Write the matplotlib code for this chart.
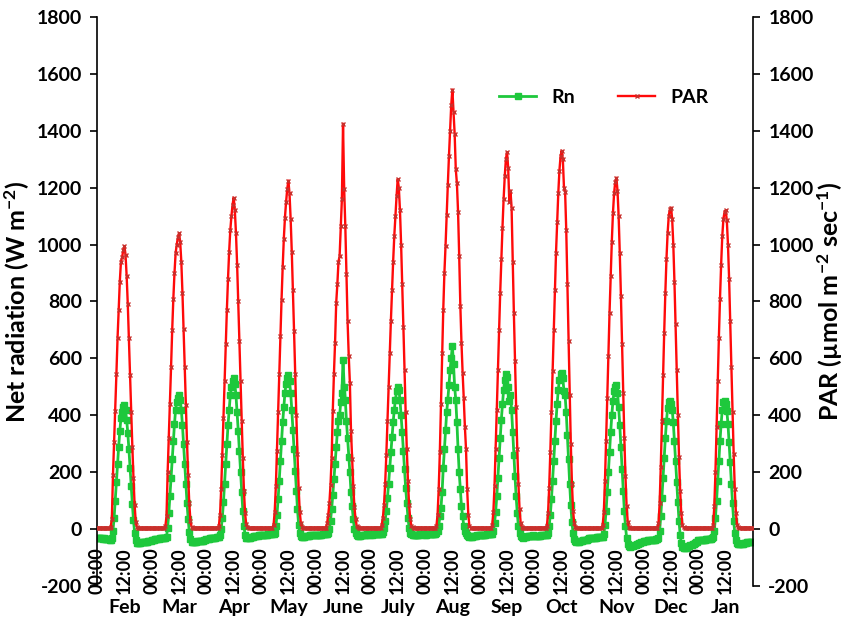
import numpy as np
import matplotlib.pyplot as plt
import matplotlib.transforms as mtransforms
from matplotlib.lines import Line2D

plt.rcParams['font.family'] = 'Lato'
plt.rcParams['font.weight'] = 'bold'
plt.rcParams['axes.labelweight'] = 'bold'
plt.rcParams['axes.unicode_minus'] = False
plt.rcParams['mathtext.fontset'] = 'custom'
plt.rcParams['mathtext.rm'] = 'Lato:bold'
plt.rcParams['mathtext.default'] = 'rm'

months = ['Feb', 'Mar', 'Apr', 'May', 'June', 'July', 'Aug', 'Sep', 'Oct', 'Nov', 'Dec', 'Jan']
hour_labels = ['00:00', '12:00']

# half-hourly values, 00:00 .. 23:30, one representative day per month
par_feb = [5, 5, 4, 5, 5, 5, 4, 5, 5, 5, 4, 5,
           8, 35, 190, 305, 415, 545, 670, 770, 870, 940, 955, 980, 995, 965, 890, 790, 670, 540, 410, 290, 180, 85, 25, 8,
           5, 5, 4, 5, 5, 5, 5, 4, 5, 5, 5, 5]
rn_feb = [-30, -31, -32, -30, -33, -34, -32, -35, -34, -36, -35, -37,
          -38, -33, -5, 40, 100, 165, 228, 290, 345, 390, 412, 430, 436, 418, 385, 338, 280, 215, 150, 88, 32, -12, -38, -48,
          -50, -49, -48, -47, -47, -46, -45, -45, -44, -43, -42, -41]

par_mar = [5, 4, 5, 5, 5, 4, 5, 5, 5, 5, 4, 5,
           10, 45, 200, 320, 440, 570, 700, 810, 900, 970, 1000, 1025, 1040, 1010, 940, 830, 705, 570, 435, 305, 190, 90, 30, 8,
           5, 5, 5, 4, 5, 5, 5, 5, 4, 5, 5, 5]
rn_mar = [-38, -37, -37, -36, -35, -35, -34, -33, -33, -32, -31, -30,
          -32, -28, 5, 55, 115, 180, 245, 310, 370, 420, 445, 462, 470, 455, 420, 365, 300, 230, 160, 92, 35, -10, -35, -44,
          -46, -45, -45, -44, -43, -43, -42, -42, -41, -41, -40, -40]

par_apr = [5, 5, 5, 4, 5, 5, 5, 4, 5, 5, 5,
           12, 50, 140, 260, 390, 520, 650, 770, 880, 975, 1050, 1100, 1140, 1165, 1120, 1040, 930, 800, 660, 520,
           380, 250, 135, 55, 18, 7,
           5, 5, 4, 5, 5, 5, 5, 5, 4, 5, 5]
rn_apr = [-35, -34, -34, -33, -32, -32, -31, -30, -30, -29, -28,
          -28, -22, 0, 40, 95, 160, 230, 300, 365, 420, 470, 500, 520, 530, 510, 470, 410, 345, 275, 200,
          130, 65, 10, -20, -30, -32,
          -31, -30, -29, -28, -27, -26, -25, -24, -23, -22, -22]

par_may = [5, 5, 4, 5, 5, 5, 5, 4, 5, 5, 5,
           15, 60, 150, 275, 410, 545, 680, 805, 920, 1020, 1095, 1150, 1195, 1225, 1180, 1090, 975, 840, 695, 545,
           400, 265, 145, 60, 20, 8,
           5, 5, 5, 5, 4, 5, 5, 5, 5, 4, 5]
rn_may = [-22, -22, -21, -21, -20, -20, -19, -19, -18, -18, -18,
          -18, -12, 10, 50, 105, 170, 240, 310, 375, 430, 480, 510, 530, 540, 520, 480, 420, 350, 280, 205,
          135, 70, 15, -15, -25, -28,
          -28, -27, -26, -25, -24, -23, -22, -22, -21, -21, -20]

par_jun = [5, 5, 5, 4, 5, 5, 5, 5, 4, 5,
           20, 50, 90, 155, 250, 415, 545, 655, 795, 860, 940, 960, 1065, 1160, 1425, 1195, 1065, 895, 730, 610,
           515, 345, 245, 150, 78, 35, 12, 6,
           5, 5, 5, 5, 4, 5, 5, 5, 5, 5]
rn_jun = [-22, -22, -21, -21, -20, -20, -19, -19, -18, -18,
          -18, -12, 0, 30, 70, 120, 175, 230, 290, 340, 380, 400, 445, 480, 595, 500, 455, 380, 320, 255,
          200, 130, 80, 35, 0, -15, -22, -24,
          -24, -23, -22, -22, -21, -20, -20, -19, -19, -18]

par_jul = [5, 4, 5, 5, 5, 5, 4, 5, 5, 5,
           15, 40, 85, 160, 260, 380, 500, 620, 730, 840, 940, 1030, 1100, 1170, 1230, 1200, 1120, 1000, 860, 710,
           560, 410, 280, 170, 85, 35, 12, 6,
           5, 5, 5, 4, 5, 5, 5, 5, 5, 4]
rn_jul = [-20, -20, -19, -19, -18, -18, -17, -17, -16, -16,
          -16, -10, 5, 30, 65, 110, 160, 215, 270, 325, 375, 420, 455, 485, 500, 490, 455, 400, 340, 275,
          210, 145, 90, 40, 5, -12, -18, -21,
          -22, -22, -21, -21, -20, -20, -19, -19, -18, -18]

par_aug = [5, 5, 4, 5, 5, 5, 5, 5, 4, 5,
           10, 50, 140, 270, 440, 620, 770, 900, 995, 1105, 1210, 1310, 1400, 1490, 1545, 1465, 1390, 1265, 1215, 1115,
           960, 785, 655, 550, 460, 360, 280, 140, 50, 10,
           5, 5, 5, 4, 5, 5, 5, 5]
rn_aug = [-20, -20, -19, -19, -18, -18, -17, -17, -16, -16,
          -15, -8, 10, 45, 75, 130, 215, 280, 350, 410, 455, 505, 560, 600, 645, 580, 500, 455, 375, 280,
          200, 140, 80, 45, 12, -5, -15, -22, -26, -28,
          -28, -27, -26, -25, -24, -23, -22, -21]

par_sep = [5, 5, 5, 5, 4, 5, 5, 5, 5, 4, 5,
           15, 60, 150, 280, 420, 560, 700, 830, 950, 1060, 1160, 1240, 1300, 1325, 1270, 1150, 1190, 1130, 940, 760,
           590, 430, 280, 160, 70, 22, 8,
           5, 5, 5, 4, 5, 5, 5, 5, 4, 5]
rn_sep = [-22, -22, -21, -21, -20, -20, -19, -19, -18, -18, -18,
          -16, -5, 20, 60, 115, 180, 250, 320, 385, 440, 490, 525, 545, 535, 500, 450, 470, 420, 340, 260,
          185, 115, 55, 10, -15, -25, -28,
          -30, -29, -28, -27, -26, -26, -25, -24, -23, -22]

par_oct = [5, 5, 4, 5, 5, 5, 5, 5, 4, 5, 5,
           12, 55, 145, 270, 410, 555, 700, 840, 970, 1080, 1180, 1260, 1310, 1330, 1300, 1200, 1185, 1050, 860, 660,
           470, 300, 160, 65, 20, 8,
           5, 5, 5, 5, 4, 5, 5, 5, 5, 5, 4]
rn_oct = [-25, -25, -24, -24, -23, -23, -22, -22, -21, -21, -20,
          -20, -12, 10, 50, 105, 170, 240, 310, 380, 440, 490, 525, 545, 550, 530, 485, 470, 410, 330, 245,
          160, 85, 25, -15, -35, -43,
          -46, -45, -44, -43, -42, -41, -40, -39, -38, -37, -36]

par_nov = [5, 5, 5, 4, 5, 5, 5, 5, 5, 4, 5, 5,
           15, 60, 170, 310, 460, 610, 760, 890, 1010, 1110, 1180, 1220, 1235, 1190, 1100, 970, 820, 650, 480, 320,
           185, 80, 25, 8,
           5, 5, 4, 5, 5, 5, 5, 4, 5, 5, 5, 5]
rn_nov = [-32, -32, -31, -31, -30, -30, -30, -29, -29, -28, -28, -28,
          -28, -18, 15, 65, 130, 200, 270, 340, 400, 450, 485, 500, 505, 480, 430, 365, 290, 210, 135, 65,
          10, -30, -52, -60,
          -62, -61, -59, -58, -56, -55, -53, -52, -50, -49, -47, -46]

par_dec = [5, 5, 4, 5, 5, 5, 5, 5, 4, 5, 5, 5, 5,
           20, 90, 220, 380, 540, 690, 830, 950, 1040, 1100, 1125, 1130, 1090, 1000, 870, 720, 560, 400, 255, 135,
           55, 15, 6,
           5, 5, 5, 4, 5, 5, 5, 5, 5, 4, 5, 5]
rn_dec = [-42, -42, -41, -41, -40, -40, -39, -39, -38, -37, -37, -36, -35,
          -30, -5, 45, 110, 180, 250, 320, 380, 425, 445, 450, 440, 420, 375, 310, 240, 165, 95, 30, -20,
          -50, -62, -65,
          -66, -65, -63, -61, -59, -57, -55, -53, -51, -49, -47, -45]

par_jan = [5, 5, 5, 5, 4, 5, 5, 5, 5, 5, 4, 5, 5,
           15, 80, 200, 360, 520, 670, 810, 930, 1030, 1090, 1115, 1120, 1085, 1000, 880, 730, 570, 410, 265, 140,
           55, 15, 6,
           5, 5, 5, 4, 5, 5, 5, 5, 5, 5, 5, 5]
rn_jan = [-40, -39, -39, -38, -38, -37, -37, -36, -35, -35, -34, -34, -33,
          -28, -5, 40, 100, 170, 240, 310, 370, 420, 445, 450, 440, 415, 370, 305, 235, 160, 90, 30, -15,
          -40, -50, -52,
          -53, -52, -52, -51, -50, -49, -48, -47, -46, -45, -45, -44]

par_days = [par_feb, par_mar, par_apr, par_may, par_jun, par_jul,
            par_aug, par_sep, par_oct, par_nov, par_dec, par_jan]
rn_days = [rn_feb, rn_mar, rn_apr, rn_may, rn_jun, rn_jul,
           rn_aug, rn_sep, rn_oct, rn_nov, rn_dec, rn_jan]

par = np.concatenate(par_days)
rn = np.concatenate(rn_days)
x = np.arange(len(par)) / 48.0

green = '#1EC83C'
red = '#FF0A0A'

fig = plt.figure(figsize=(8.46, 6.32), dpi=100)
ax = fig.add_axes([0.1147, 0.0728, 0.7754, 0.9003])
ax2 = ax.twinx()

ax.plot(x, rn, color=green, lw=2, marker='s', ms=4.5, mfc=green, mec=green, zorder=2)
ax2.plot(x, par, color=red, lw=1.7, marker='x', ms=3, mew=1, mec='#C8302C', zorder=3)

for a in (ax, ax2):
    a.set_ylim(-200, 1800)
    a.set_yticks(np.arange(-200, 1801, 200))
    a.tick_params(axis='y', labelsize=14, length=5, width=1.2, direction='out', pad=6)
ax.set_xlim(0, 12)
ax.set_xticks(np.arange(24) * 0.5)
ax.set_xticklabels(hour_labels * 12)
ax.tick_params(axis='x', length=0, pad=13, labelrotation=90, labelsize=13)

ax.spines['bottom'].set_position(('data', 0))
ax.spines['bottom'].set_visible(False)
ax.spines['top'].set_visible(False)
ax.spines['right'].set_visible(False)
ax.spines['left'].set_linewidth(1.2)
for s in ('top', 'left', 'bottom'):
    ax2.spines[s].set_visible(False)
ax2.spines['right'].set_linewidth(1.2)

ax.set_ylabel('Net radiation (W m$^{-2}$)', fontsize=18, fontweight='bold', labelpad=3)
ax2.set_ylabel('PAR (µmol m$^{-2}$ sec$^{-1}$)', fontsize=18, fontweight='bold', labelpad=1)

trans = mtransforms.blended_transform_factory(ax.transData, ax.transAxes)
for i, m in enumerate(months):
    ax.text(i + 0.5, -0.037, m, transform=trans, ha='center', va='center',
            fontsize=14, fontweight='bold')

handles = [Line2D([], [], color=green, lw=2, marker='s', ms=4.5),
           Line2D([], [], color=red, lw=1.7, marker='x', ms=3, mec='#C8302C')]
ax2.legend(handles, ['Rn', 'PAR'], loc='center', bbox_to_anchor=(0.773, 0.859),
           ncol=2, frameon=False, fontsize=14, handlelength=1.9, columnspacing=2.2,
           numpoints=1)

fig.savefig('out.png', dpi=100)
